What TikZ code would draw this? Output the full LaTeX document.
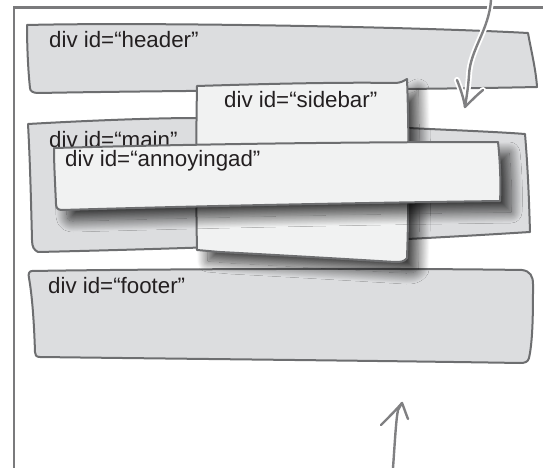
\documentclass[tikz,border=0pt]{standalone}
\usepackage{fontspec}
\setmainfont{Liberation Sans}
\usetikzlibrary{shadows.blur}
\definecolor{boxgray}{HTML}{DCDDDF}
\definecolor{boxlight}{HTML}{F1F2F2}
\definecolor{edgegray}{HTML}{6D6E70}
\definecolor{framegray}{HTML}{7A7A7C}
\definecolor{arrowgray}{HTML}{808082}
\definecolor{txt}{HTML}{231F20}
\tikzset{
  graybox/.style={fill=boxgray, draw=edgegray, line width=2pt, line join=round},
  lightbox/.style={fill=boxlight, draw=edgegray, line width=2pt, line join=round,
    blur shadow={shadow xshift=11pt, shadow yshift=-11pt, shadow blur radius=11pt,
      shadow blur steps=30, shadow opacity=75}},
  divlabel/.style={anchor=base west, inner sep=0pt, text=txt, font=\fontsize{22.3}{25}\selectfont},
  framestyle/.style={draw=framegray, line width=2.5pt},
  sketcharrow/.style={draw=arrowgray, line width=2.4pt, line cap=round, line join=round},
  halo/.style={draw=white, line width=6pt, line cap=round, line join=round}
}
\begin{document}
\begin{tikzpicture}[x=1pt,y=-1pt]
\useasboundingbox (0,0) rectangle (543,468);
% frame
\coordinate (fA) at (14,468);
\coordinate (fB) at (14,7.5);
\coordinate (fC) at (545,7.5);
\draw[framestyle] (fA) -- (fB) -- (fC);
% header
\path[graybox] (27,25) .. controls (150,22) and (420,27) .. (528,33)
  .. controls (531,50) and (536,70) .. (537,87)
  .. controls (400,90) and (200,90) .. (38,93)
  .. controls (33,93) and (30,91) .. (30,88)
  .. controls (28,70) and (27,45) .. (27,25) -- cycle;
\node[divlabel] (header) at (49,48) {div id=“header”};
% top arrow
\coordinate (ta0) at (491,0);
\coordinate (ta1) at (465,107);
\coordinate (taL) at (457,80);
\coordinate (taR) at (483,90);
\draw[halo] (ta0) .. controls (489,30) and (470,50) .. (469,75) .. controls (468,90) and (466,100) .. (ta1);
\draw[halo] (taL) .. controls (461,90) and (464,100) .. (ta1) .. controls (472,100) and (478,94) .. (taR);
\draw[sketcharrow] (ta0) .. controls (489,30) and (470,50) .. (469,75) .. controls (468,90) and (466,100) .. (ta1);
\draw[sketcharrow] (taL) .. controls (461,90) and (464,100) .. (ta1) .. controls (472,100) and (478,94) .. (taR);
% main
\path[graybox] (28,124) .. controls (80,121) and (150,118) .. (197,118)
  -- (408,128) .. controls (450,130) and (500,132) .. (525,134)
  .. controls (528,170) and (529,200) .. (530,232)
  .. controls (450,237) and (300,246) .. (38,252)
  .. controls (34,250) and (32,247) .. (32,240)
  .. controls (31,200) and (30,160) .. (28,124) -- cycle;
\node[divlabel] (main) at (49,147) {div id=“main”};
% footer
\path[graybox] (32,271) .. controls (150,269) and (400,268) .. (522,270)
  .. controls (530,271) and (533,276) .. (533,284)
  .. controls (533,310) and (533,340) .. (529,358)
  .. controls (528,362) and (525,363) .. (520,363)
  .. controls (400,361) and (200,359) .. (40,357)
  .. controls (36,357) and (35,355) .. (35,352)
  .. controls (34,320) and (32,295) .. (29,278)
  .. controls (28,274) and (29,271) .. (32,271) -- cycle;
\node[divlabel] (footer) at (48,293) {div id=“footer”};
% sidebar
\path[lightbox] (197,86) .. controls (260,84) and (340,82) .. (395,83)
  .. controls (400,83) and (404,81) .. (407,79)
  .. controls (409,130) and (409,200) .. (407,258)
  .. controls (404,262) and (400,262) .. (395,262)
  .. controls (330,258) and (240,253) .. (220,252)
  -- (197,250) .. controls (196,200) and (196,140) .. (197,86) -- cycle;
\node[divlabel] (sidebar) at (224,107) {div id=“sidebar”};
% annoyingad
\path[lightbox] (54,148) .. controls (200,144) and (350,142) .. (498,142)
  .. controls (500,160) and (501,185) .. (500,201)
  .. controls (350,203) and (200,206) .. (62,210)
  .. controls (58,210) and (56,208) .. (56,204)
  .. controls (55,180) and (54,165) .. (54,148) -- cycle;
\node[divlabel] (annoyingad) at (65,166) {div id=“annoyingad”};
% bottom arrow
\coordinate (ba0) at (393,468);
\coordinate (ba1) at (402,403);
\coordinate (baL) at (381,425);
\coordinate (baR) at (408,419);
\draw[sketcharrow] (ba0) .. controls (395,440) and (396,420) .. (398,410) -- (ba1);
\draw[sketcharrow] (baL) .. controls (388,418) and (396,410) .. (ba1) .. controls (404,408) and (406,414) .. (baR);
\end{tikzpicture}
\end{document}
